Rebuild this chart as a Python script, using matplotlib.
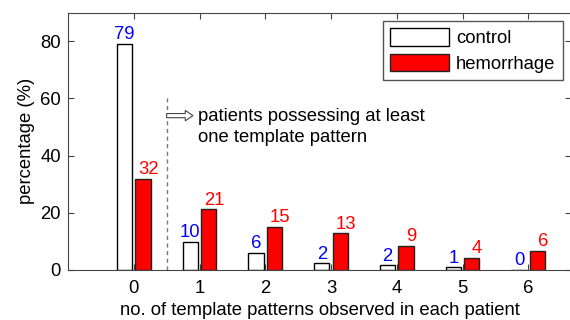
import matplotlib
matplotlib.use("Agg")
import matplotlib.pyplot as plt
import numpy as np

categories = [0, 1, 2, 3, 4, 5, 6]
control = [79.2, 9.7, 6.1, 2.3, 1.6, 0.9, 0.0]
hemorrhage = [31.9, 21.2, 15.0, 12.8, 8.5, 4.3, 6.6]
control_labels = ["79", "10", "6", "2", "2", "1", "0"]
hemorrhage_labels = ["32", "21", "15", "13", "9", "4", "6"]
annot_text = "patients possessing at least\none template pattern"

plt.rcParams['font.family'] = ['Liberation Sans', 'DejaVu Sans']
FS = 13.3

fig = plt.figure(figsize=(5.7, 3.2), dpi=100)
ax = fig.add_axes([68/570, 1-270/320, (571-68)/570, (270-12.7)/320])

x = np.array(categories, dtype=float)
off = 0.14
w = 0.23
ax.bar(x - off, control, width=w, color='white', edgecolor='black', linewidth=1, label='control', zorder=2)
ax.bar(x + off, hemorrhage, width=w, color='#ff0000', edgecolor='#222222', linewidth=1, label='hemorrhage', zorder=2)

for xi, v, t in zip(x, control, control_labels):
    ax.text(xi - off, v + 0.3, t, color='#0000ff', ha='center', va='bottom', fontsize=FS)
for xi, v, t in zip(x, hemorrhage, hemorrhage_labels):
    ax.text(xi + off + 0.08, v + 0.3, t, color='#ff0000', ha='center', va='bottom', fontsize=FS)

ax.plot([0.5, 0.5], [0, 60], linestyle='--', color='#777777', linewidth=1, dashes=(3, 2.5), zorder=1)
ax.annotate("", xy=(0.9, 54.0), xytext=(0.5, 54.0),
            arrowprops=dict(arrowstyle="simple,head_width=0.75,head_length=0.55,tail_width=0.3",
                            fc='white', ec='#444444', lw=0.8, shrinkA=0, shrinkB=0))
ax.text(0.98, 50, annot_text, ha='left', va='center', fontsize=FS, linespacing=1.3)

ax.set_xlim(-1, 6.65)
ax.set_ylim(0, 90)
ax.set_xticks(categories)
ax.set_yticks([0, 20, 40, 60, 80])
ax.tick_params(direction='in', top=True, right=True, length=4, width=0.8, colors='#444444',
               labelcolor='black', labelsize=FS)
ax.tick_params(axis='x', pad=7)
ax.tick_params(axis='y', pad=5)
for s in ax.spines.values():
    s.set_color('#444444')
    s.set_linewidth(0.8)

ax.set_xlabel("no. of template patterns observed in each patient", fontsize=FS, labelpad=4)
ax.set_ylabel("percentage (%)", fontsize=FS, labelpad=4)

leg = ax.legend(loc='upper right', fontsize=FS, fancybox=False, framealpha=1, edgecolor='#555555',
                handlelength=3.2, handleheight=1.08, handletextpad=0.35, labelspacing=0.35,
                borderpad=0.4, borderaxespad=0.45)
leg.get_frame().set_linewidth(1)

fig.savefig("out.png", dpi=100)
